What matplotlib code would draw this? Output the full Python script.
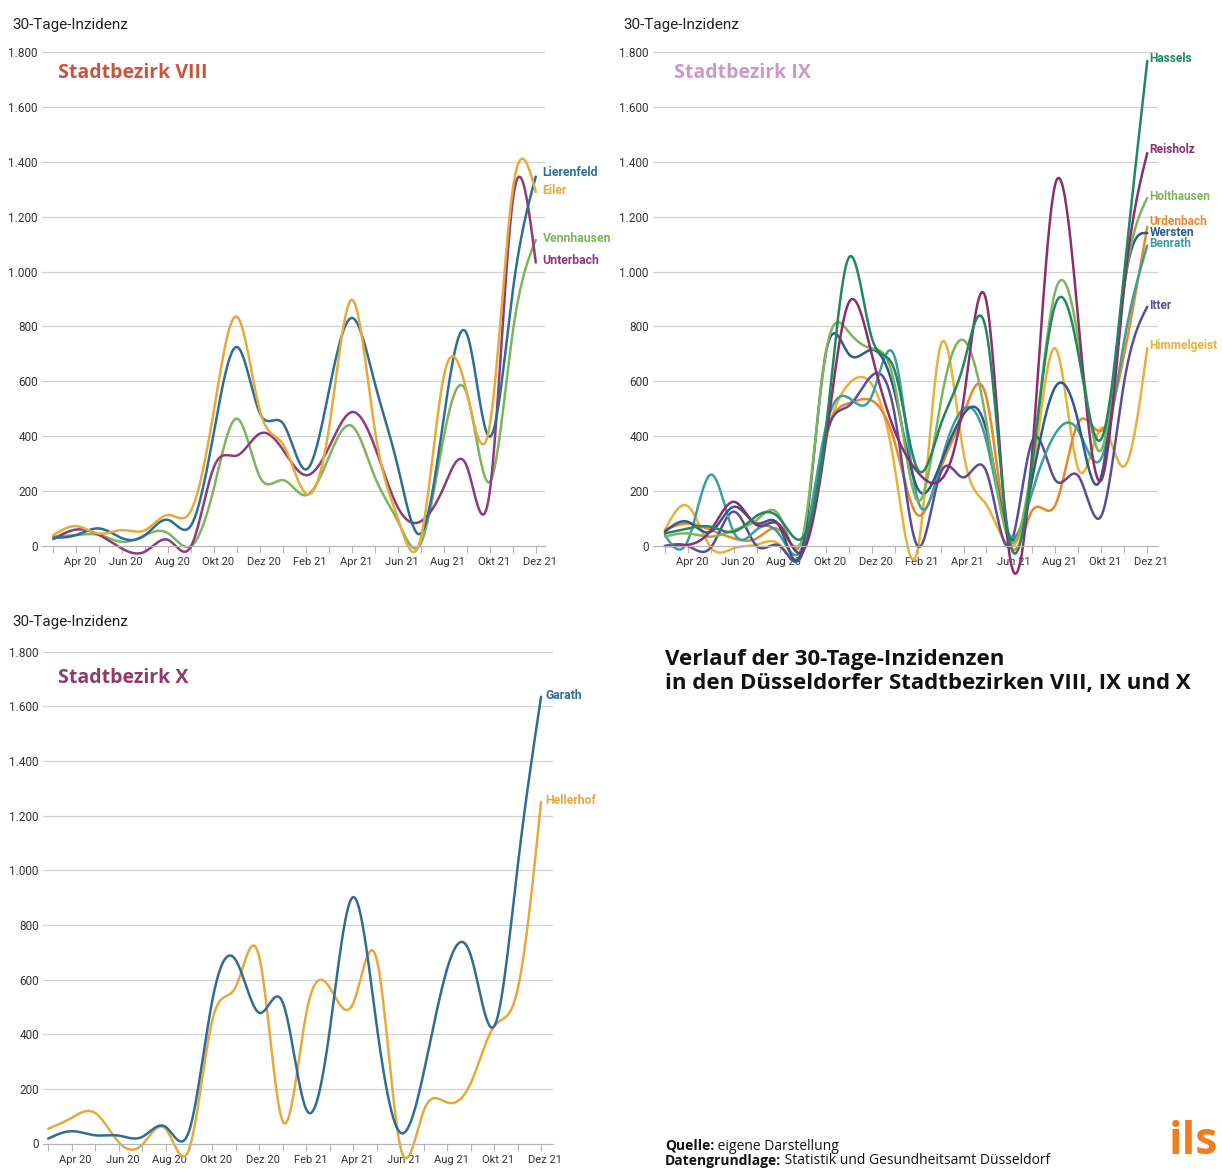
import numpy as np
import matplotlib
matplotlib.use('Agg')
import matplotlib.pyplot as plt
from matplotlib.transforms import ScaledTranslation

W, H = 1222, 1169

# Monate Mär 20 .. Dez 21
tick_labels = ['', 'Apr 20', '', 'Jun 20', '', 'Aug 20', '', 'Okt 20', '', 'Dez 20',
               '', 'Feb 21', '', 'Apr 21', '', 'Jun 21', '', 'Aug 21', '', 'Okt 21', '', 'Dez 21']
y_ticks = [0, 200, 400, 600, 800, 1000, 1200, 1400, 1600, 1800]

# Stadtbezirk VIII
lierenfeld = [30, 40, 64, 28, 40, 95, 76, 420, 725, 482, 446, 279, 567, 831, 591, 288, 46, 470, 773, 398, 930, 1346]
eiler = [40, 72, 45, 58, 58, 113, 130, 500, 835, 490, 370, 191, 430, 897, 420, 100, 30, 620, 560, 440, 1300, 1290]
vennhausen = [35, 40, 40, 15, 40, 46, 0, 215, 464, 250, 240, 185, 325, 437, 250, 90, 10, 400, 555, 234, 780, 1115]
unterbach = [25, 60, 40, -10, -20, 22, 0, 290, 330, 410, 350, 258, 360, 488, 360, 140, 90, 215, 290, 200, 1260, 1033]

# Stadtbezirk IX
hassels = [46, 64, 70, 52, 110, 100, 30, 420, 1050, 760, 640, 280, 440, 660, 780, 20, 300, 880, 700, 390, 1000, 1767]
reisholz = [0, 4, 58, 161, 76, 76, -20, 380, 886, 700, 420, 270, 240, 530, 890, -30, 350, 1320, 820, 240, 950, 1432]
holthausen = [34, 46, 34, 58, 95, 107, 34, 700, 780, 720, 590, 165, 520, 750, 450, 20, 320, 930, 750, 350, 950, 1268]
urdenbach = [58, 82, 58, 28, 28, 58, 22, 400, 520, 530, 380, 113, 280, 480, 540, 10, 130, 150, 450, 420, 700, 1163]
wersten = [52, 88, 52, 143, 82, 70, 0, 700, 700, 715, 560, 210, 300, 480, 420, 30, 250, 580, 450, 255, 950, 1140]
benrath = [40, 20, 260, 50, 60, 40, 0, 430, 540, 545, 690, 170, 300, 500, 380, 40, 200, 410, 420, 320, 750, 1095]
itter = [0, 0, -5, 125, 0, 0, -25, 400, 510, 620, 480, 0, 265, 250, 270, 0, 385, 240, 255, 110, 600, 872]
himmelgeist = [58, 145, -5, -8, 5, 5, -20, 380, 590, 590, 290, -15, 730, 340, 150, 0, 250, 720, 280, 430, 290, 721]

# Stadtbezirk X
garath = [18, 45, 30, 29, 24, 61, 45, 527, 670, 478, 515, 124, 417, 902, 430, 40, 260, 640, 690, 429, 1012, 1635]
hellerhof = [54, 94, 112, 5, -5, 54, -22, 454, 575, 680, 80, 478, 570, 514, 673, -10, 120, 150, 220, 429, 563, 1250]

narrow = ['Roboto', 'DejaVu Sans']
bold_font = ['Open Sans', 'DejaVu Sans']


def smooth(vals, n_sub=24):
    # natuerlicher kubischer Spline durch die Monatswerte
    y = np.asarray(vals, dtype=float)
    n = len(y)
    A = np.zeros((n, n))
    b = np.zeros(n)
    A[0, 0] = 1
    A[-1, -1] = 1
    for i in range(1, n - 1):
        A[i, i - 1] = 1
        A[i, i] = 4
        A[i, i + 1] = 1
        b[i] = 6 * (y[i + 1] - 2 * y[i] + y[i - 1])
    M = np.linalg.solve(A, b)
    xs = np.linspace(0, n - 1, (n - 1) * n_sub + 1)
    i = np.minimum(np.floor(xs).astype(int), n - 2)
    t = xs - i
    ys = (1 - t) * y[i] + t * y[i + 1] + ((1 - t) ** 3 - (1 - t)) * M[i] / 6 + (t ** 3 - t) * M[i + 1] / 6
    return xs, ys


fig = plt.figure(figsize=(W / 100, H / 100), dpi=100)


def px_text(x, y, s, **kw):
    return fig.text(x / W, 1 - y / H, s, **kw)


def make_ax(left, right, x0, dx, y_top, y_zero):
    s = (y_zero - y_top) / 1800.0
    ylo, yhi = -150, 1815
    top = y_top - (yhi - 1800) * s
    bottom = y_zero - ylo * s
    ax = fig.add_axes([left / W, 1 - bottom / H, (right - left) / W, (bottom - top) / H])
    ax.set_xlim((left - x0) / dx, (right - x0) / dx)
    ax.set_ylim(ylo, yhi)
    ax.patch.set_alpha(0)
    for sp in ['top', 'right', 'left']:
        ax.spines[sp].set_visible(False)
    ax.spines['bottom'].set_position(('data', 0))
    ax.spines['bottom'].set_color('#b5b5b5')
    ax.spines['bottom'].set_linewidth(0.9)
    for v in y_ticks[1:]:
        ax.axhline(v, color='#d2d2d2', lw=0.9, zorder=0)
    ax.set_yticks(y_ticks)
    ax.set_yticklabels([f'{v:,}'.replace(',', '.') for v in y_ticks], family=narrow,
                       fontsize=8.5, color='#333333')
    ax.tick_params(axis='y', length=0, pad=3)
    ax.set_xticks(range(len(tick_labels)))
    ax.set_xticklabels(tick_labels, family=narrow, fontsize=8, color='#333333')
    ax.tick_params(axis='x', length=5, width=0.8, color='#b5b5b5', pad=3)
    for lbl in ax.get_xticklabels():
        lbl.set_transform(lbl.get_transform() + ScaledTranslation(4 / 100, 0, fig.dpi_scale_trans))
    return ax


def draw(ax, series, labels, off=4, size=8.8):
    for name, vals, color in series:
        xs, ys = smooth(vals)
        ax.plot(xs, ys, color=color, lw=1.8, solid_capstyle='round', clip_on=False)
    for name, vals, color in series:
        ax.annotate(name, xy=(len(vals) - 1, labels[name]), xytext=(off, 0), textcoords='offset points',
                    va='center', ha='left', color=color, fontsize=size, fontweight='bold',
                    family=narrow, annotation_clip=False)


# Stadtbezirk VIII
ax1 = make_ax(42, 545, 53.4, 22.97, 52, 546)
draw(ax1, [
    ('Vennhausen', vennhausen, '#7db45c'),
    ('Unterbach', unterbach, '#8e3b7a'),
    ('Lierenfeld', lierenfeld, '#2e6e96'),
    ('Eiler', eiler, '#e6aa3c'),
], {'Lierenfeld': 1360, 'Eiler': 1297, 'Vennhausen': 1122, 'Unterbach': 1042}, off=5)

# Stadtbezirk IX
ax2 = make_ax(653, 1158, 664.9, 22.97, 52, 546)
draw(ax2, [
    ('Himmelgeist', himmelgeist, '#e8b23a'),
    ('Urdenbach', urdenbach, '#e9872f'),
    ('Itter', itter, '#5c4c98'),
    ('Benrath', benrath, '#3d9f9b'),
    ('Wersten', wersten, '#2b5b8c'),
    ('Holthausen', holthausen, '#7fb45c'),
    ('Reisholz', reisholz, '#8b2e6e'),
    ('Hassels', hassels, '#22875c'),
], {'Hassels': 1775, 'Reisholz': 1443, 'Holthausen': 1272, 'Urdenbach': 1181,
    'Wersten': 1141, 'Benrath': 1101, 'Itter': 875, 'Himmelgeist': 729}, off=1.5, size=8.6)

# Stadtbezirk X
ax3 = make_ax(43, 553, 48.2, 23.47, 651.7, 1143.5)
draw(ax3, [
    ('Hellerhof', hellerhof, '#e6aa3c'),
    ('Garath', garath, '#2e6e96'),
], {'Garath': 1641, 'Hellerhof': 1257}, off=3)

# Beschriftungen
for x, y in [(12, 25), (623, 25), (12, 622)]:
    px_text(x, y, '30-Tage-Inzidenz', family=narrow, fontsize=11, color='#222222', va='center')

px_text(58, 73, 'Stadtbezirk VIII', family=bold_font, fontweight='bold', fontsize=14, color='#c95540', va='center')
px_text(674, 73, 'Stadtbezirk IX', family=bold_font, fontweight='bold', fontsize=14, color='#c89ac6', va='center')
px_text(58, 678, 'Stadtbezirk X', family=bold_font, fontweight='bold', fontsize=14, color='#8e3a6e', va='center')

px_text(665, 659, 'Verlauf der 30-Tage-Inzidenzen', family=bold_font, fontweight='bold', fontsize=16,
        color='#111111', va='center')
px_text(665, 684, 'in den Düsseldorfer Stadtbezirken VIII, IX und X', family=bold_font, fontweight='bold',
        fontsize=16, color='#111111', va='center')

fig.canvas.draw()
renderer = fig.canvas.get_renderer()
for y, head, rest in [(1146, 'Quelle:', ' eigene Darstellung'),
                      (1161, 'Datengrundlage:', ' Statistik und Gesundheitsamt Düsseldorf')]:
    t = px_text(665, y, head, family=bold_font, fontweight='bold', fontsize=10, color='#111111', va='center')
    bb = t.get_window_extent(renderer)
    px_text(665 + bb.width, y, rest, family=bold_font, fontsize=10, color='#111111', va='center')

px_text(1193, 1143, 'ils', family=bold_font, fontweight='bold', fontsize=32, color='#f07e1b',
        va='center', ha='center')

fig.savefig('out.png', dpi=100, facecolor='white')
